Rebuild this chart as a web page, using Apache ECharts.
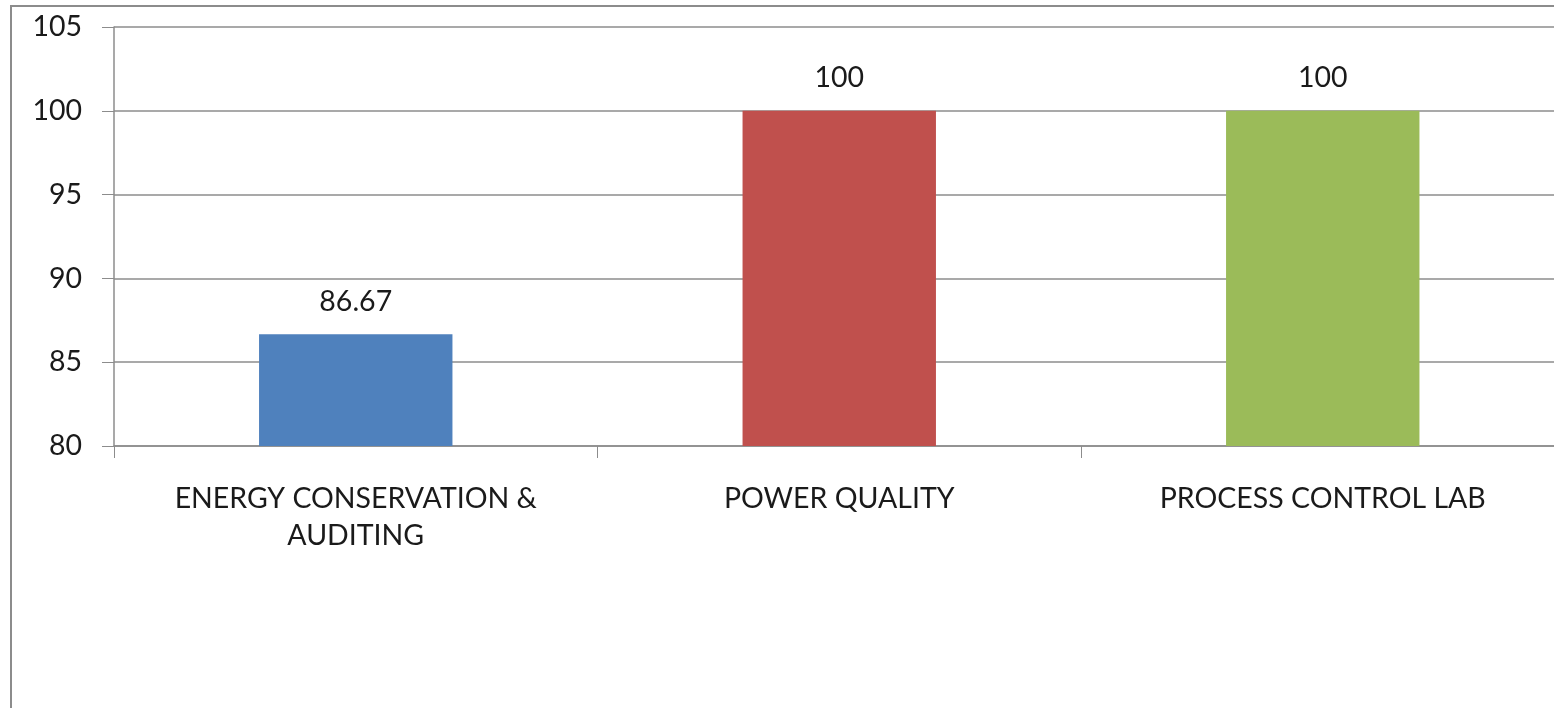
<!DOCTYPE html>
<html>
<head>
    <meta charset="utf-8"/>
    <title>Results</title>
    <style type="text/css">
        html, body {
            margin: 0;
            padding: 0;
            overflow: hidden;
            background: #fff;
        }
        #frame {
            position: absolute;
            left: 10px;
            top: 5px;
            width: 1600px;
            height: 760px;
            border-left: 2px solid #8c8c8c;
            border-top: 2px solid #8c8c8c;
        }
        #main {
            position: absolute;
            left: 0;
            top: 0;
            width: 1600px;
            height: 708px;
        }
    </style>
    <script type="text/javascript" src="https://cdn.jsdelivr.net/npm/echarts@6/dist/echarts.min.js"></script>
</head>
<body>
<div id="frame"></div>
<div id="main"></div>
<script type="text/javascript">
    // subjects and their scores
    var subjects = ['ENERGY CONSERVATION &\nAUDITING', 'POWER QUALITY', 'PROCESS CONTROL LAB'];
    var scores = [86.67, 100, 100];
    var barColors = ['#4F81BD', '#C0504D', '#9BBB59'];
    var yTicks = [80, 85, 90, 95, 100, 105];

    var myChart = echarts.init(document.getElementById('main'));

    var option = {
        animation: false,
        textStyle: {fontFamily: 'Lato'},
        grid: {
            left: 114,
            top: 27,
            right: 35.5,
            height: 419
        },
        xAxis: {
            type: 'category',
            data: subjects,
            axisLine: {lineStyle: {color: '#8c8c8c', width: 1.5}},
            axisTick: {show: true, length: 12, lineStyle: {color: '#8c8c8c'}},
            axisLabel: {
                color: '#1a1a1a',
                fontSize: 28.5,
                lineHeight: 37,
                margin: 34,
                interval: 0
            }
        },
        yAxis: {
            type: 'value',
            min: yTicks[0],
            max: yTicks[yTicks.length - 1],
            interval: 5,
            axisLine: {show: true, lineStyle: {color: '#8c8c8c', width: 1.5}},
            axisTick: {show: true, length: 12, lineStyle: {color: '#8c8c8c'}},
            axisLabel: {
                color: '#1a1a1a',
                fontSize: 28.5,
                margin: 32
            },
            splitLine: {lineStyle: {color: '#8c8c8c', width: 1.5}}
        },
        series: [{
            type: 'bar',
            barWidth: '40%',
            data: scores.map(function (v, i) {
                return {value: v, itemStyle: {color: barColors[i]}};
            }),
            label: {
                show: true,
                position: 'top',
                distance: 18,
                color: '#1a1a1a',
                fontSize: 28.5
            }
        }]
    };

    myChart.setOption(option);
</script>
</body>
</html>
